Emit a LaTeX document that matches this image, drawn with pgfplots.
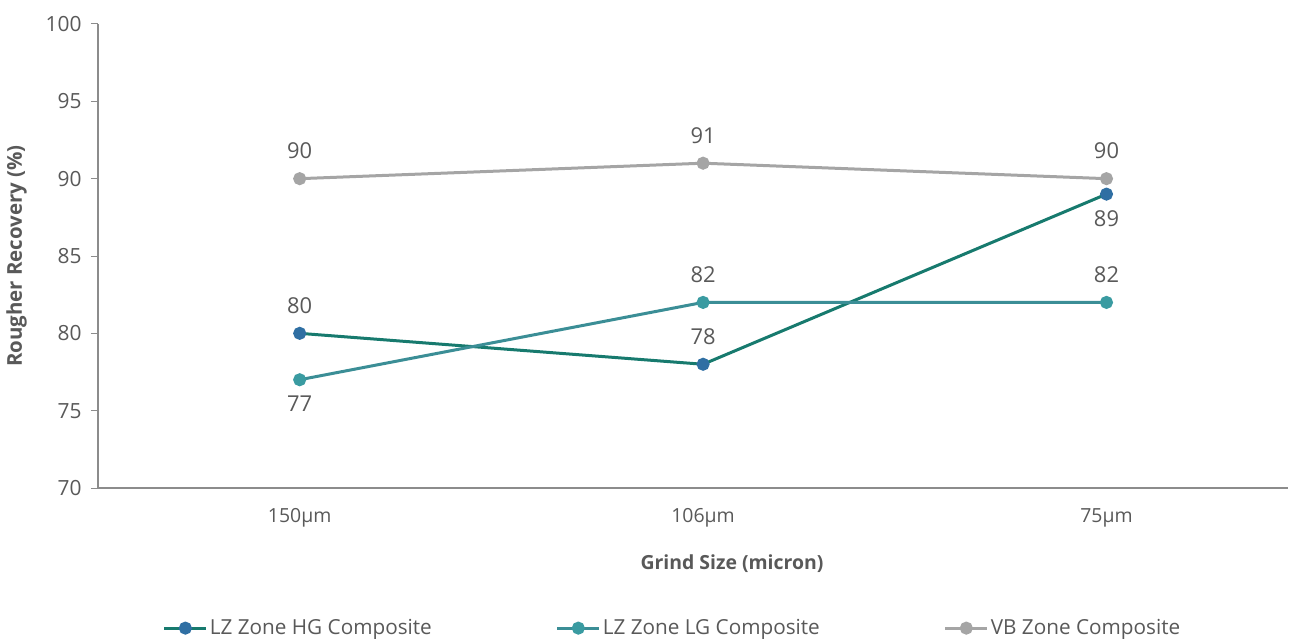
\documentclass[border=0pt]{standalone}
\usepackage{pgfplots}
\pgfplotsset{compat=1.18}
\usepackage{fontspec}
\setmainfont{Open Sans}
\definecolor{hgline}{HTML}{177A6E}
\definecolor{hgmark}{HTML}{2F6FA3}
\definecolor{lgline}{HTML}{3B8E96}
\definecolor{lgmark}{HTML}{3A9BA1}
\definecolor{vbline}{HTML}{A5A5A5}
\definecolor{txt}{HTML}{595959}
\definecolor{axc}{HTML}{8C8C8C}
\begin{document}
\begin{tikzpicture}
\begin{axis}[
  name=ax,
  scale only axis, width=1190bp, height=464bp,
  xmin=-0.5, xmax=2.45, ymin=70, ymax=100,
  xtick={0,1,2}, xticklabels={150µm,106µm,75µm},
  ytick={70,75,...,100},
  axis x line*=bottom, axis y line*=left,
  axis line style={axc, line width=1.2bp, -},
  x axis line style={-}, y axis line style={-},
  xtick style={draw=none},
  ytick style={axc, line width=1bp},
  tick align=outside, major tick length=7bp,
  tick label style={font=\fontsize{19.5}{22}\selectfont, text=txt},
  yticklabel style={font=\fontsize{21}{22}\selectfont, xshift=-6bp},
  /pgf/number format/assume math mode=true,
  xticklabel style={yshift=-10bp},
  xlabel={\bfseries Grind Size (micron)},
  ylabel={\bfseries Rougher Recovery (\%)},
  xlabel style={font=\fontsize{19.5}{22}\selectfont, text=txt, yshift=-21bp, xshift=39bp},
  ylabel style={font=\fontsize{20.5}{24}\selectfont, text=txt, yshift=12bp},
  legend columns=3,
  legend style={draw=none, at={(0.4828,-0.302)}, anchor=center,
    font=\fontsize{20.8}{22}\selectfont, text=txt,
    nodes={inner xsep=2bp},
    /tikz/every odd column/.append style={column sep=0bp},
    /tikz/every even column/.append style={column sep=122bp}},
  legend image code/.code={\draw[mark repeat=2,mark phase=2,#1] plot coordinates {(0bp,0bp) (21bp,0bp) (42bp,0bp)};},
  every node near coord/.append style={font=\fontsize{22}{24}\selectfont, text=txt, inner sep=7bp},
  clip=false,
]
\addplot[hgline, line width=3bp, mark=*, mark size=5bp, mark options={fill=hgmark, draw=hgmark},
  nodes near coords, point meta=explicit symbolic,
  visualization depends on={value \thisrow{pos} \as \lpos},
  visualization depends on={value \thisrow{dy} \as \ldy},
  every node near coord/.append style={anchor=\lpos, yshift=\ldy bp}]
  table[meta=lab] {
x y lab pos dy
0 80 80 south 11
1 78 78 south 11
2 89 89 north -8
};
\addlegendentry{LZ Zone HG Composite}
\addplot[lgline, line width=3bp, mark=*, mark size=5bp, mark options={fill=lgmark, draw=lgmark},
  nodes near coords, point meta=explicit symbolic,
  visualization depends on={value \thisrow{pos} \as \lpos},
  visualization depends on={value \thisrow{dy} \as \ldy},
  every node near coord/.append style={anchor=\lpos, yshift=\ldy bp}]
  table[meta=lab] {
x y lab pos dy
0 77 77 north -8
1 82 82 south 11
2 82 82 south 11
};
\addlegendentry{LZ Zone LG Composite}
\addplot[vbline, line width=3bp, mark=*, mark size=5bp, mark options={fill=vbline, draw=vbline},
  nodes near coords, point meta=explicit symbolic,
  visualization depends on={value \thisrow{pos} \as \lpos},
  visualization depends on={value \thisrow{dy} \as \ldy},
  every node near coord/.append style={anchor=\lpos, yshift=\ldy bp}]
  table[meta=lab] {
x y lab pos dy
0 90 90 south 11
1 91 91 south 11
2 90 90 south 11
};
\addlegendentry{VB Zone Composite}
\end{axis}
\pgfresetboundingbox
\path ([xshift=-98bp,yshift=-151bp]ax.south west) rectangle ++(1301bp,639bp);
\end{tikzpicture}
\end{document}
